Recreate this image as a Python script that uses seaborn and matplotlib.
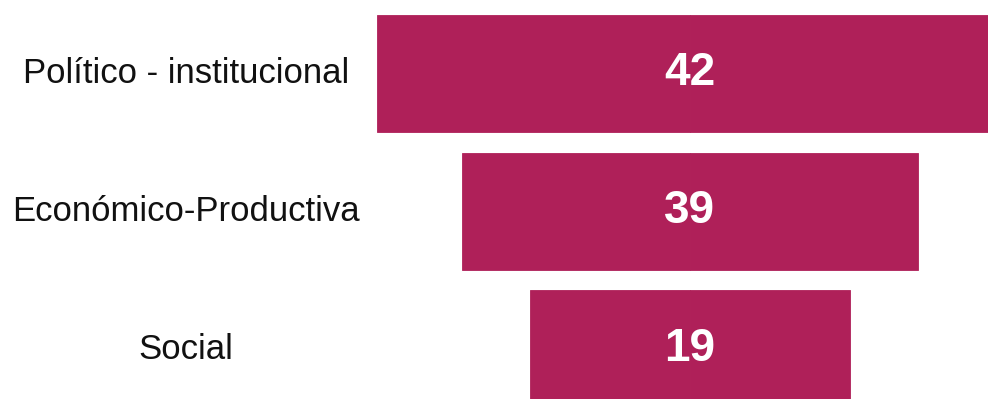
import matplotlib
matplotlib.use("Agg")
import matplotlib.pyplot as plt
import seaborn as sns
import pandas as pd

# Data
categories = ["Político - institucional", "Económico-Productiva", "Social"]
values = [42, 39, 19]                    # printed labels
bar_widths = [62.5, 45.6, 32.0]          # apparent funnel widths (arbitrary units)

color = "#AF2059"

sns.set_theme(style="white")
plt.rcParams["font.family"] = ["Liberation Sans", "DejaVu Sans"]

df = pd.DataFrame({"cat": categories, "val": values, "w": bar_widths})
df["half"] = df["w"] / 2
df["neg"] = -df["w"] / 2

fig = plt.figure(figsize=(9.88, 3.99), dpi=100)
ax = fig.add_axes([0, 0, 1, 1])

for col in ["half", "neg"]:
    sns.barplot(data=df, x=col, y="cat", orient="h", color=color,
                saturation=1, width=0.85, linewidth=0.6, edgecolor=color, ax=ax)

ax.set_xlim(-68.95, 29.85)
ax.set_ylim(2.362, -0.5315)
ax.axis("off")

for i, (c, v) in enumerate(zip(categories, values)):
    ax.text(0, i, str(v), ha="center", va="center", color="white",
            fontsize=33, fontweight="bold")
    ax.text(-68.95 + 18.6, i, c, ha="center", va="center", color="#111111",
            fontsize=25)

fig.savefig("out.png", dpi=100)
